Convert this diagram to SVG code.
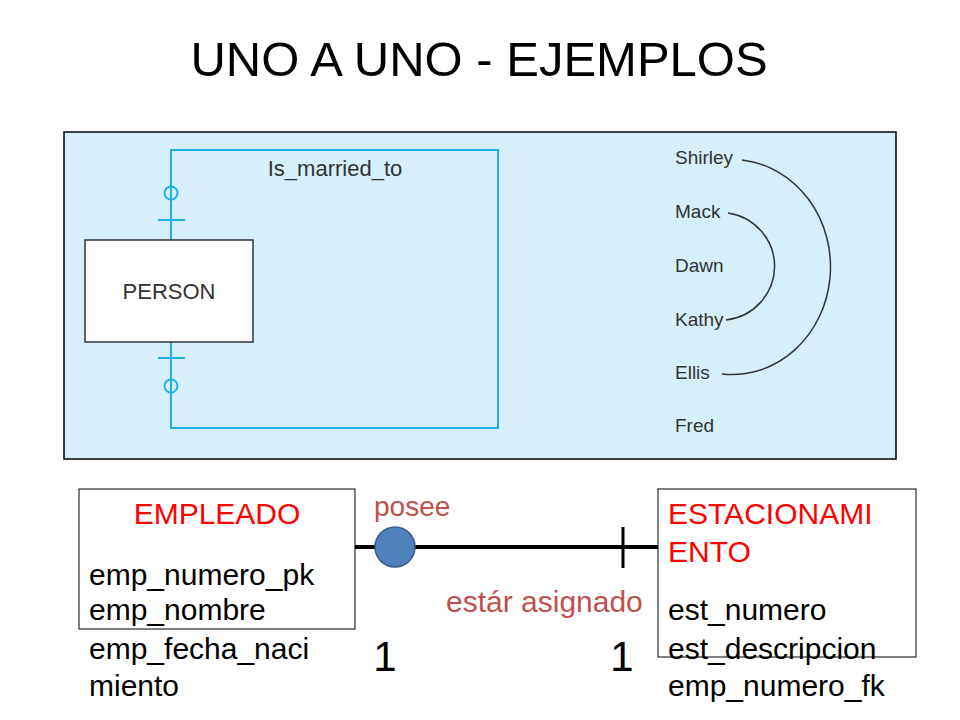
<svg xmlns="http://www.w3.org/2000/svg" width="960" height="720" viewBox="0 0 960 720">
<style>
.s{font-family:"Liberation Sans",Arial,sans-serif}
.b{stroke:#1fb1e6;stroke-width:2;fill:none}
.t{font-family:"Liberation Sans",Arial,sans-serif;font-size:19px;fill:#333}
.k{font-family:"Liberation Sans",Arial,sans-serif;font-size:30px;fill:#000}
</style>
<rect width="960" height="720" fill="#fff"/>
<text class="s" x="479" y="76" font-size="49" text-anchor="middle">UNO A UNO - EJEMPLOS</text>
<rect x="64" y="132" width="832" height="327" fill="#d6effa" stroke="#000" stroke-width="1.5"/>
<g id="connectors">
<path class="b" d="M171,240 V150 H498 V428 H171 V342"/>
<circle class="b" cx="171" cy="193" r="6.5"/>
<circle class="b" cx="171" cy="386" r="6.5"/>
<path class="b" d="M158,220 H185 M158,358 H185"/>
<path d="M742,160 A98,107 0 0 1 722,374" fill="none" stroke="#333" stroke-width="1.5"/>
<path d="M728,213 A55,54 0 0 1 726,320" fill="none" stroke="#333" stroke-width="1.5"/>
<path d="M355,547 H658" stroke="#000" stroke-width="4"/>
<path d="M623,527 V568" stroke="#000" stroke-width="3"/>
</g>
<g id="person"><rect x="85" y="240" width="168" height="102" fill="#fff" stroke="#333" stroke-width="1.5"/>
<text class="t" x="169" y="299" text-anchor="middle" style="font-size:22px">PERSON</text></g>
<text class="t" x="335" y="176" text-anchor="middle" style="font-size:22px">Is_married_to</text>
<g class="t"><text x="675" y="164">Shirley</text><text x="675" y="218">Mack</text><text x="675" y="272">Dawn</text><text x="675" y="326">Kathy</text><text x="675" y="379">Ellis</text><text x="675" y="432">Fred</text></g>
<g id="empleado"><rect x="79" y="489" width="276" height="140" fill="none" stroke="#000" stroke-width="1"/>
<text class="k" x="217" y="524" text-anchor="middle" style="fill:#f00">EMPLEADO</text>
<text class="k" x="89" y="585">emp_numero_pk</text><text class="k" x="89" y="620">emp_nombre</text><text class="k" x="89" y="659">emp_fecha_naci</text><text class="k" x="89" y="696">miento</text></g>
<g id="estacionamiento"><rect x="658" y="489" width="258" height="168" fill="none" stroke="#000" stroke-width="1"/>
<text class="k" x="668" y="524" style="fill:#f00">ESTACIONAMI</text><text class="k" x="668" y="562" style="fill:#f00">ENTO</text>
<text class="k" x="668" y="620">est_numero</text><text class="k" x="668" y="659">est_descripcion</text><text class="k" x="668" y="696">emp_numero_fk</text></g>
<circle id="rel" cx="395" cy="547" r="20" fill="#4f81bd" stroke="#385d8a" stroke-width="1.5"/>
<text class="k" x="374" y="516" style="fill:#c0504d;font-size:28px">posee</text>
<text class="k" x="446" y="612" style="fill:#c0504d">estár asignado</text>
<text class="s" x="385" y="671" font-size="42" text-anchor="middle">1</text>
<text class="s" x="622" y="671" font-size="42" text-anchor="middle">1</text>
</svg>
